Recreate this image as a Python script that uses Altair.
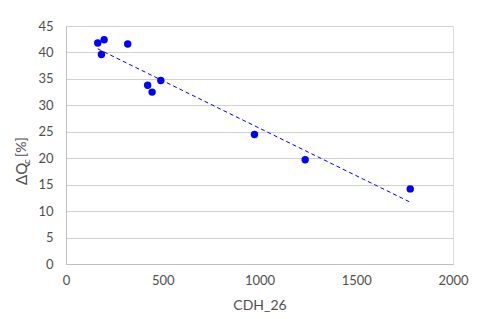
import altair as alt
import pandas as pd

cdh = [164, 183, 197, 319, 422, 445, 490, 974, 1236, 1779]
dq = [41.8, 39.6, 42.4, 41.6, 33.8, 32.5, 34.7, 24.5, 19.7, 14.2]
x_ticks = [0, 500, 1000, 1500, 2000]
y_ticks = [0, 5, 10, 15, 20, 25, 30, 35, 40, 45]

df = pd.DataFrame({"x": cdh, "y": dq})
FONT = "Lato"
BLUE = "#0000ff"
TXT = "#505050"

xs = alt.Scale(domain=[0, 2000], nice=False)
ys = alt.Scale(domain=[0, 45], nice=False)

x_axis = alt.Axis(values=x_ticks, format="d", grid=False, ticks=False,
                  labelFlush=False, labelOverlap=False,
                  domainColor="#bfbfbf", labelPadding=10, titlePadding=11,
                  labelFontSize=13, titleFontSize=14, titleFontWeight="normal",
                  labelColor=TXT, titleColor=TXT,
                  labelFont=FONT, titleFont=FONT)
y_axis = alt.Axis(values=y_ticks, format="d", grid=True, gridColor="#d0d0d0",
                  ticks=False, domainColor="#bfbfbf", labelPadding=13,
                  labelFlush=False, labelOverlap=False,
                  labelFontSize=13, labelColor=TXT, labelFont=FONT)

base = alt.Chart(df)

points = base.mark_circle(size=55, color=BLUE, opacity=1).encode(
    x=alt.X("x:Q", scale=xs, title="CDH_26", axis=x_axis),
    y=alt.Y("y:Q", scale=ys, title=None, axis=y_axis),
)

trend = base.transform_regression("x", "y").mark_line(
    color=BLUE, strokeDash=[4, 3], strokeWidth=1
).encode(
    x=alt.X("x:Q", scale=xs, title="CDH_26", axis=x_axis),
    y=alt.Y("y:Q", scale=ys, title=None, axis=y_axis),
)

one = pd.DataFrame({"a": [0]})
t1 = alt.Chart(one).mark_text(
    angle=270, align="left", baseline="middle", fontSize=15, font=FONT, color=TXT
).encode(x=alt.value(-44), y=alt.value(159), text=alt.value("ΔQ"))
t2 = alt.Chart(one).mark_text(
    angle=270, align="left", baseline="middle", fontSize=10, font=FONT, color=TXT
).encode(x=alt.value(-39), y=alt.value(138), text=alt.value("c"))
t3 = alt.Chart(one).mark_text(
    angle=270, align="left", baseline="middle", fontSize=14, font=FONT, color=TXT
).encode(x=alt.value(-44), y=alt.value(131), text=alt.value(" [%]"))

chart = alt.layer(points, trend, t1, t2, t3).properties(
    width=387, height=238,
    autosize=alt.AutoSizeParams(type="none"),
    padding={"left": 58, "top": 18, "right": 19, "bottom": 50},
).configure_view(stroke="transparent", strokeWidth=0).configure(background="white")

chart.save("out.html", embed_options={"renderer": "svg", "actions": False})
